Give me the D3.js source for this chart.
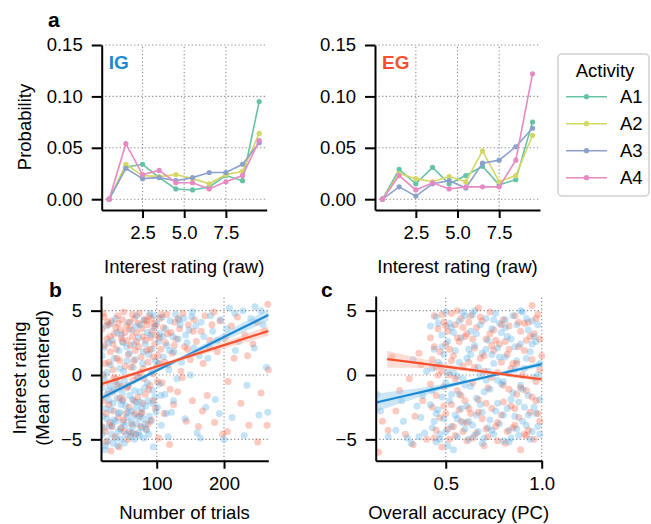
<!DOCTYPE html>
<html><head><meta charset="utf-8">
<script src="https://cdn.jsdelivr.net/npm/d3@7"></script>
<style>
body{margin:0;background:#fff;}
svg{display:block;font-family:"Liberation Sans",Arial,sans-serif;}
</style></head><body>
<svg id="chart" width="651" height="524"></svg>
<script>
// ---------- DATA ----------
const ratingBins = [0.5,1.5,2.5,3.5,4.5,5.5,6.5,7.5,8.5,9.5];
const activities = ["A1","A2","A3","A4"];
const activityColors = ["#66c2a5","#d3d764","#8da0cb","#e78ac3"];
const probIG_A1 = [0,0.031,0.034,0.021,0.010,0.009,0.012,0.023,0.018,0.095];
const probIG_A2 = [0,0.034,0.023,0.022,0.024,0.020,0.015,0.024,0.027,0.064];
const probIG_A3 = [0,0.030,0.020,0.021,0.018,0.021,0.026,0.026,0.034,0.055];
const probIG_A4 = [0,0.054,0.024,0.028,0.016,0.016,0.010,0.017,0.023,0.057];
const probEG_A1 = [0,0.029,0.015,0.031,0.015,0.023,0.032,0.014,0.019,0.075];
const probEG_A2 = [0,0.025,0.020,0.017,0.022,0.017,0.047,0.017,0.023,0.062];
const probEG_A3 = [0,0.012,0.003,0.015,0.018,0.011,0.035,0.038,0.051,0.069];
const probEG_A4 = [0,0.023,0.009,0.016,0.010,0.012,0.012,0.012,0.038,0.122];
const probTicks = [0,0.05,0.10,0.15];
const ratingTicks = [2.5,5.0,7.5];

const trialsIG = [[20,-3.2],[22,-4.1],[19,1.5],[24,-2.6],[25,3.8],[27,-5.1],[28,-1.2],[30,-3.9],[31,0.8],[33,-4.6],[34,2.7],[35,-2.2],[36,-3.5],[38,-0.5],[39,4.4],[40,-4.9],[41,-1.8],[43,-3.0],[44,1.9],[45,-2.9],[46,-4.2],[48,3.1],[49,-1.4],[50,-3.7],[51,0.3],[52,-5.3],[54,-2.4],[55,2.2],[56,-3.3],[57,-0.9],[58,4.1],[59,-4.4],[60,-1.6],[62,-2.8],[63,3.5],[64,-4.0],[65,0.6],[66,-3.1],[67,-5.0],[68,1.2],[69,-2.1],[70,4.6],[71,-3.8],[72,-0.2],[73,2.9],[74,-4.7],[75,-1.3],[76,3.9],[78,-2.6],[79,0.9],[80,-3.4],[81,4.3],[82,-1.0],[83,2.4],[85,-4.3],[86,3.3],[87,-2.0],[88,1.6],[90,4.8],[91,-3.6],[92,0.2],[93,2.0],[95,-5.6],[96,3.7],[97,-1.7],[98,1.1],[100,4.0],[101,-2.5],[103,2.6],[104,-0.7],[105,3.2],[107,-3.9],[108,4.5],[110,1.4],[112,-1.5],[113,3.6],[115,2.3],[117,-4.8],[118,0.4],[120,4.2],[122,-2.9],[124,3.0],[126,1.8],[128,4.7],[130,-0.3],[132,2.8],[135,3.9],[137,1.0],[140,4.4],[142,-3.4],[145,2.5],[148,3.5],[150,0.0],[153,4.9],[155,2.1],[158,3.8],[160,-4.5],[163,1.5],[166,4.1],[170,3.0],[173,-2.5],[176,1.3],[180,4.6],[183,3.4],[187,-1.9],[190,2.7],[195,4.3],[200,-5.0],[204,3.6],[208,5.2],[212,-3.3],[216,4.8],[222,2.6],[228,5.0],[234,-0.8],[240,4.4],[246,5.3],[252,-3.1],[258,3.9],[263,0.6],[265,-2.9],
[18,-1.0],[21,2.1],[23,-5.8],[26,0.2],[29,-2.0],[32,4.0],[34,-4.0],[37,1.3],[42,-5.5],[44,-0.7],[47,-2.3],[50,2.5],[53,-3.9],[56,1.1],[61,-4.8],[64,-1.9],[66,2.4],[70,-2.5],[73,-4.5],[77,-3.0],[81,-4.9],[84,-2.4],[89,-3.2],[94,-1.2],[99,-2.9],
[19,-4.6],[22,-0.3],[24,-5.5],[26,-3.4],[28,2.5],[30,-0.8],[32,-2.7],[35,-5.3],[37,-1.1],[39,-3.6],[41,3.3],[43,-4.4],[45,0.5],[47,-5.0],[49,-2.0],[52,-0.4],[54,-4.6],[57,-2.9],[59,1.7],[62,-3.6],[65,-4.5],[67,-1.2],[69,3.8],[72,-3.3],[75,-2.1],[78,-4.1],[80,1.8],[83,-3.8],[86,-0.6],[88,-4.6],[91,3.1],[94,-2.2],[97,4.6],[102,0.9],[106,-1.6],[109,3.0],[114,-3.0],[119,1.9],[125,-2.0],[133,4.3],[143,3.1],[152,4.5],[165,-4.9],[178,2.2],[193,-3.0],[217,1.9],[230,-4.7],[245,2.1],[255,5.0]];
const trialsEG = [[19,3.6],[20,-2.0],[22,4.5],[23,0.9],[24,-4.4],[26,2.8],[27,-1.5],[28,3.9],[30,-3.7],[31,1.8],[32,-5.9],[33,4.2],[35,0.4],[36,-2.8],[37,3.2],[38,-4.8],[40,2.0],[41,-0.8],[42,4.6],[43,-3.3],[45,1.1],[46,3.5],[47,-4.1],[49,2.6],[50,-1.9],[51,4.9],[53,0.7],[54,-3.0],[55,3.8],[57,-5.0],[58,1.6],[59,-2.5],[60,4.1],[61,2.3],[63,-3.8],[64,3.0],[65,-0.4],[67,4.4],[68,1.9],[69,-4.6],[70,3.3],[72,-1.7],[73,2.2],[74,4.8],[75,-3.2],[77,1.4],[78,3.6],[79,-2.2],[80,0.5],[82,4.3],[83,2.7],[84,-4.2],[86,3.9],[87,1.0],[88,-1.1],[89,4.6],[91,2.9],[92,-3.5],[93,3.4],[94,0.1],[96,4.0],[97,2.4],[98,-2.6],[100,3.1],[102,1.5],[103,-4.9],[105,4.4],[106,2.0],[108,-0.6],[110,3.7],[111,-3.0],[113,2.5],[115,4.7],[117,0.8],[119,-5.4],[121,3.3],[123,1.7],[125,-2.3],[127,4.1],[129,2.8],[131,-1.3],[134,3.6],[136,0.3],[139,4.8],[141,2.2],[144,-3.6],[147,3.9],[150,1.2],[153,-2.0],[156,4.3],[159,2.6],[162,-4.0],[166,3.4],[169,0.9],[172,4.6],[175,-1.6],[179,2.7],[182,3.9],[186,-3.7],[190,1.8],[194,4.2],[198,-4.6],[202,2.9],[206,-0.5],[211,3.8],[215,1.3],[220,4.5],[225,-2.2],[231,3.1],[237,-3.9],[243,2.4],[249,4.1],[255,-1.4],[260,3.4],[264,-3.9],[265,5.5],[266,0.4],
[18,-4.0],[21,0.0],[25,-5.2],[29,1.0],[34,-1.3],[39,-0.3],[44,-5.6],[48,-0.9],[52,-4.4],[56,-1.0],[62,0.6],[66,-2.0],[71,-0.1],[76,-4.0],[81,-0.3],[85,1.9],[90,-0.8],[95,1.4],[99,0.6],[104,0.9],
[20,4.8],[23,2.3],[25,-3.0],[27,4.1],[29,-2.3],[31,3.0],[33,-4.0],[35,2.4],[37,-0.2],[39,3.7],[41,1.3],[43,4.0],[45,-1.8],[47,2.9],[49,4.3],[51,-3.5],[53,3.3],[56,2.7],[58,-0.8],[60,3.6],[62,-4.5],[64,4.7],[66,1.1],[68,-3.0],[70,2.6],[73,4.0],[76,0.2],[78,-2.9],[80,3.0],[83,-1.5],[85,4.2],[87,-3.8],[90,2.0],[92,4.4],[95,-2.0],[98,3.8],[101,-0.5],[104,2.9],[107,4.7],[112,1.0],[116,3.2],[120,-1.1],[126,2.3],[132,4.4],[138,-0.2],[146,2.0],[154,3.4],[168,-2.8],[185,4.9],[205,-4.4],[235,1.5],[250,-5.2]];
const accIG = [[0.14,-1.5],[0.16,-2.8],[0.20,-4.8],[0.24,-4.3],[0.27,-2.0],[0.30,-4.9],[0.33,1.2],[0.35,-2.4],[0.37,-3.3],[0.38,-1.6],[0.39,-4.5],[0.40,0.3],
[0.42,3.8],[0.43,-4.1],[0.43,-1.2],[0.44,2.0],[0.45,-5.2],[0.45,4.5],[0.46,-2.7],[0.47,0.8],[0.47,-4.6],[0.48,3.1],[0.49,-3.4],[0.49,1.6],[0.50,-0.6],[0.50,4.9],[0.51,-5.5],[0.51,2.6],[0.52,-2.0],[0.53,-4.0],[0.53,3.7],[0.54,0.2],[0.55,-3.1],[0.55,1.9],[0.56,-4.8],[0.57,4.2],[0.57,-1.5],[0.58,2.9],[0.59,-3.7],[0.59,-0.3],[0.60,4.6],[0.61,-2.4],[0.61,1.3],[0.62,-5.0],[0.63,3.4],[0.63,-0.9],[0.64,-3.9],[0.65,2.3],[0.65,5.0],[0.66,-1.8],[0.67,-4.4],[0.67,0.6],[0.68,3.9],[0.69,-2.9],[0.69,1.7],[0.70,-4.9],[0.71,4.4],[0.71,-0.4],[0.72,2.7],[0.73,-3.5],[0.73,-1.1],[0.74,3.6],[0.75,-4.6],[0.75,0.9],[0.76,4.8],[0.77,-2.2],[0.77,2.1],[0.78,-3.8],[0.79,-0.7],[0.79,3.3],[0.80,-5.1],[0.81,1.4],[0.81,4.3],[0.82,-2.6],[0.83,0.1],[0.83,-4.3],[0.84,2.8],[0.85,4.6],[0.85,-1.4],[0.86,-3.2],[0.87,1.1],[0.87,3.9],[0.88,-4.7],[0.89,-0.8],[0.89,2.4],[0.90,4.9],[0.91,-2.5],[0.91,0.5],[0.92,-3.9],[0.93,3.5],[0.93,-1.6],[0.94,1.8],[0.95,-4.4],[0.95,4.2],[0.96,-0.2],[0.97,2.6],[0.97,-3.0],[0.98,3.9],[0.99,-1.9],[0.99,0.9],
[0.44,-3.6],[0.46,1.0],[0.48,-1.7],[0.52,4.0],[0.54,-5.8],[0.56,-0.1],[0.58,-2.6],[0.60,-4.2],[0.62,2.0],[0.64,4.7],[0.66,-3.1],[0.68,0.0],[0.70,-1.3],[0.72,-4.1],[0.74,1.6],[0.76,-2.8],[0.78,4.0],[0.80,-0.5],[0.82,3.0],[0.84,-4.9],[0.86,2.2],[0.88,-2.1],[0.90,-3.6],[0.92,4.4],[0.94,-5.0],[0.96,3.0],[0.98,-4.0],
[0.42,-2.3],[0.43,0.5],[0.45,-3.0],[0.46,4.0],[0.47,-5.0],[0.48,2.2],[0.50,-4.4],[0.51,0.2],[0.53,-1.5],[0.54,3.3],[0.56,-3.4],[0.57,1.0],[0.59,4.9],[0.60,-0.8],[0.62,-3.6],[0.63,1.6],[0.65,-4.7],[0.66,3.2],[0.68,-2.3],[0.69,-5.3],[0.71,2.0],[0.72,0.3],[0.74,-4.3],[0.75,4.3],[0.77,-0.4],[0.78,1.4],[0.80,-3.1],[0.81,3.7],[0.83,-5.2],[0.84,-1.9],[0.86,0.4],[0.87,-4.2],[0.89,5.0],[0.90,-1.1],[0.92,1.3],[0.93,-3.1],[0.95,2.4],[0.96,-2.5],[0.98,0.0],[0.99,-4.6],[0.36,-4.8],[0.32,-5.3],[0.28,-3.6]];
const accEG = [[0.15,-6.0],[0.17,-3.6],[0.20,-4.3],[0.22,1.4],[0.26,-1.2],[0.29,-4.6],[0.31,-0.3],[0.34,-3.2],[0.36,1.7],[0.38,-2.0],[0.40,-5.0],
[0.42,2.9],[0.43,-2.5],[0.44,4.6],[0.44,-4.9],[0.45,0.6],[0.46,3.6],[0.47,-3.3],[0.47,1.8],[0.48,-5.6],[0.49,4.1],[0.49,-0.9],[0.50,2.4],[0.51,-4.2],[0.51,3.4],[0.52,0.0],[0.53,4.8],[0.53,-2.3],[0.54,1.5],[0.55,-4.7],[0.55,3.9],[0.56,-1.2],[0.57,2.6],[0.58,-3.6],[0.58,4.4],[0.59,0.7],[0.60,-2.0],[0.61,3.2],[0.61,-5.1],[0.62,1.0],[0.63,-3.0],[0.63,4.6],[0.64,-0.6],[0.65,2.1],[0.66,-4.5],[0.66,3.7],[0.67,-1.9],[0.68,1.3],[0.69,4.2],[0.69,-3.4],[0.70,0.3],[0.71,2.8],[0.72,-4.8],[0.72,-1.0],[0.73,4.9],[0.74,-2.6],[0.75,1.9],[0.75,3.5],[0.76,-4.0],[0.77,0.2],[0.78,2.4],[0.79,-3.1],[0.80,4.3],[0.80,-0.8],[0.81,-5.3],[0.82,1.6],[0.83,3.8],[0.84,-2.4],[0.84,0.5],[0.85,-4.1],[0.86,4.6],[0.87,-1.5],[0.88,2.2],[0.88,-3.3],[0.89,3.4],[0.90,0.0],[0.91,-4.6],[0.92,2.7],[0.92,-1.2],[0.93,4.1],[0.94,-2.9],[0.95,1.2],[0.96,-5.0],[0.96,3.2],[0.97,-0.5],[0.98,4.7],[0.99,-3.6],[1.0,1.5],
[0.43,1.2],[0.45,-1.6],[0.48,0.3],[0.50,-3.0],[0.52,2.0],[0.54,-4.0],[0.56,5.0],[0.57,-2.7],[0.59,-4.4],[0.60,3.0],[0.62,-2.6],[0.64,2.8],[0.67,5.2],[0.70,-5.5],[0.71,-2.2],[0.74,2.3],[0.77,-3.7],[0.79,1.0],[0.81,2.6],[0.83,-1.1],[0.86,-3.9],[0.87,0.9],[0.89,-5.8],[0.91,4.0],[0.93,-4.3],[0.95,5.4],[0.97,-2.0],[0.99,2.8],
[0.42,-0.7],[0.44,2.2],[0.45,-4.3],[0.46,0.0],[0.48,4.7],[0.49,-2.4],[0.50,3.8],[0.52,-5.0],[0.53,1.1],[0.55,-0.3],[0.56,2.9],[0.58,-1.6],[0.59,3.7],[0.61,-3.7],[0.62,4.1],[0.64,-4.9],[0.65,0.6],[0.67,-2.9],[0.68,4.5],[0.70,1.5],[0.71,-4.2],[0.73,3.2],[0.74,-0.2],[0.76,2.7],[0.77,-5.1],[0.79,3.9],[0.80,-2.1],[0.82,-4.4],[0.83,2.0],[0.85,0.9],[0.86,-2.6],[0.88,4.1],[0.89,-1.0],[0.91,1.9],[0.92,-4.7],[0.94,3.0],[0.95,-1.7],[0.97,4.4],[0.98,-3.0],[0.99,0.4],[0.24,-2.8],[0.33,-5.4],[0.37,0.8]];

// regression fits: [x, fit, ci half-width]
const fitTrialsIG = [[17.2,-1.81,0.32],[60,-0.70,0.18],[100,0.35,0.13],[140,1.39,0.16],[180,2.43,0.25],[220,3.47,0.35],[265.8,4.66,0.46]];
const fitTrialsEG = [[17.2,-0.72,0.28],[60,-0.01,0.15],[100,0.66,0.12],[140,1.32,0.15],[180,1.99,0.22],[220,2.65,0.29],[265.8,3.42,0.37]];
const fitAccIG = [[0.135,-2.15,0.70],[0.25,-1.75,0.52],[0.4,-1.23,0.30],[0.55,-0.71,0.16],[0.7,-0.19,0.12],[0.85,0.33,0.15],[1.0,0.85,0.22]];
const fitAccEG = [[0.195,1.24,0.65],[0.3,1.04,0.48],[0.45,0.75,0.28],[0.6,0.45,0.15],[0.75,0.16,0.12],[0.9,-0.14,0.16],[1.0,-0.33,0.22]];
const ratingYTicks = [-5,0,5];
const trialTicks = [100,200];
const accTicks = [0.5,1.0];

// ---------- DRAW ----------
const svg = d3.select("#chart");
const FS = 18.5;
const blue = "#1b8ad3", red = "#f5512f";

function grid(g, xs, ys, x, y){
  const [x0,x1]=x.range(), [y0,y1]=y.range();
  xs.forEach(v=>g.append("line").attr("x1",x(v)).attr("x2",x(v)).attr("y1",y0).attr("y2",y1)
    .attr("stroke","#888").attr("stroke-width",1.1).attr("stroke-dasharray","1.2,2.4"));
  ys.forEach(v=>g.append("line").attr("x1",x0).attr("x2",x1).attr("y1",y(v)).attr("y2",y(v))
    .attr("stroke","#888").attr("stroke-width",1.1).attr("stroke-dasharray","1.2,2.4"));
}
function axes(g, x, y, xt, yt, xfmt, yfmt){
  const ax = g.append("g").attr("transform",`translate(0,${y.range()[0]})`)
    .call(d3.axisBottom(x).tickValues(xt).tickFormat(xfmt).tickSize(8).tickSizeOuter(0).tickPadding(8));
  const ay = g.append("g").attr("transform",`translate(${x.range()[0]},0)`)
    .call(d3.axisLeft(y).tickValues(yt).tickFormat(yfmt).tickSize(10).tickSizeOuter(0).tickPadding(9));
  [ax,ay].forEach(a=>{
    a.select(".domain").attr("stroke","#000").attr("stroke-width",2);
    a.selectAll(".tick line").attr("stroke","#000").attr("stroke-width",2);
    a.selectAll(".tick text").attr("font-size",FS).attr("fill","#000").attr("font-family","Liberation Sans, Arial, sans-serif");
  });
}
const fmt2 = d3.format(".2f"), fmt1 = d3.format(".1f");
const fmtInt = d => d<0 ? "\u2212"+Math.abs(d) : String(d);

// Panel a
const yProb = d3.scaleLinear().domain([-0.0105,0.15]).range([210,45]);
const panelsA = [
  {x0:101.7,x1:266.7,label:"IG",color:blue,series:[probIG_A1,probIG_A2,probIG_A3,probIG_A4]},
  {x0:375,x1:540,label:"EG",color:red,series:[probEG_A1,probEG_A2,probEG_A3,probEG_A4]}
];
panelsA.forEach((p)=>{
  const x = d3.scaleLinear().domain([0.05,9.95]).range([p.x0,p.x1]);
  const g = svg.append("g");
  grid(g, ratingTicks, probTicks, x, yProb);
  axes(g, x, yProb, ratingTicks, probTicks, fmt1, fmt2);
  const line = d3.line().x((d,i)=>x(ratingBins[i])).y(d=>yProb(d));
  p.series.forEach((s,si)=>{
    g.append("path").attr("d",line(s)).attr("fill","none").attr("stroke",activityColors[si]).attr("stroke-width",1.6);
    g.selectAll(null).data(s).enter().append("circle").attr("cx",(d,i)=>x(ratingBins[i])).attr("cy",d=>yProb(d))
      .attr("r",2.6).attr("fill",activityColors[si]);
  });
  g.append("text").attr("x",p.x0+7).attr("y",69).attr("font-size",19).attr("font-weight","bold").attr("fill",p.color).text(p.label);
  g.append("text").attr("x",(p.x0+p.x1)/2).attr("y",273).attr("text-anchor","middle").attr("font-size",FS).text("Interest rating (raw)");
});
svg.append("text").attr("x",48).attr("y",27).attr("font-size",21).attr("font-weight","bold").text("a");
svg.append("text").attr("transform","translate(31,127) rotate(-90)").attr("text-anchor","middle").attr("font-size",FS).text("Probability");

// Legend
const lg = svg.append("g");
lg.append("rect").attr("x",558).attr("y",54).attr("width",91).attr("height",142).attr("rx",4)
  .attr("fill","#fff").attr("stroke","#d0d0d0").attr("stroke-width",1.5);
lg.append("text").attr("x",605).attr("y",76.5).attr("text-anchor","middle").attr("font-size",FS).text("Activity");
activities.forEach((a,i)=>{
  const yy = 96.7 + i*27;
  lg.append("line").attr("x1",566).attr("x2",607).attr("y1",yy).attr("y2",yy).attr("stroke",activityColors[i]).attr("stroke-width",1.6);
  lg.append("circle").attr("cx",586.5).attr("cy",yy).attr("r",2.6).attr("fill",activityColors[i]);
  lg.append("text").attr("x",620).attr("y",yy+6.5).attr("font-size",FS).text(a);
});

// Panels b & c
const yRate = d3.scaleLinear().domain([-6.66,6.14]).range([460.7,296]);
function scatterPanel(x, xt, xfmt, ig, eg, fitIG, fitEG){
  const g = svg.append("g");
  grid(g, xt, ratingYTicks, x, yRate);
  const clipId = "c"+Math.round(x.range()[0]);
  svg.append("clipPath").attr("id",clipId).append("rect").attr("x",x.range()[0]).attr("y",yRate.range()[1]-5)
    .attr("width",x.range()[1]-x.range()[0]+6).attr("height",yRate.range()[0]-yRate.range()[1]+5);
  const pg = g.append("g").attr("clip-path",`url(#${clipId})`);
  const pts = [];
  const n = Math.max(ig.length, eg.length);
  for(let i=0;i<n;i++){ if(i<eg.length) pts.push([eg[i],red]); if(i<ig.length) pts.push([ig[i],"#3aa3e0"]); }
  pg.selectAll(null).data(pts).enter().append("circle")
    .attr("cx",d=>x(d[0][0])).attr("cy",d=>yRate(d[0][1])).attr("r",3.5)
    .attr("fill",d=>d[1]).attr("fill-opacity",0.3);
  [[fitIG,blue,"#8fc7ec"],[fitEG,red,"#f9b6a6"]].forEach(([f,c,bc])=>{
    const area = d3.area().curve(d3.curveMonotoneX).x(d=>x(d[0])).y0(d=>yRate(d[1]-d[2])).y1(d=>yRate(d[1]+d[2]));
    pg.append("path").attr("d",area(f)).attr("fill",bc).attr("fill-opacity",0.45);
    pg.append("path").attr("d",d3.line().x(d=>x(d[0])).y(d=>yRate(d[1]))(f)).attr("fill","none").attr("stroke",c).attr("stroke-width",2.2);
  });
  axes(g, x, yRate, xt, ratingYTicks, xfmt, fmtInt);
  return g;
}
const xTrials = d3.scaleLinear().domain([17.2,265.8]).range([101,268.3]);
scatterPanel(xTrials, trialTicks, d=>String(d), trialsIG, trialsEG, fitTrialsIG, fitTrialsEG);
const xAcc = d3.scaleLinear().domain([0.135,1.0]).range([375.7,541.7]);
scatterPanel(xAcc, accTicks, fmt1, accIG, accEG, fitAccIG, fitAccEG);

svg.append("text").attr("x",49).attr("y",297).attr("font-size",21).attr("font-weight","bold").text("b");
svg.append("text").attr("x",321).attr("y",297).attr("font-size",21).attr("font-weight","bold").text("c");
svg.append("text").attr("x",184.5).attr("y",519).attr("text-anchor","middle").attr("font-size",FS).text("Number of trials");
svg.append("text").attr("x",458.7).attr("y",519).attr("text-anchor","middle").attr("font-size",FS).text("Overall accuracy (PC)");
svg.append("text").attr("transform","translate(25.5,378) rotate(-90)").attr("text-anchor","middle").attr("font-size",FS).text("Interest rating");
svg.append("text").attr("transform","translate(49,378) rotate(-90)").attr("text-anchor","middle").attr("font-size",FS).text("(Mean centered)");
</script>
</body></html>
